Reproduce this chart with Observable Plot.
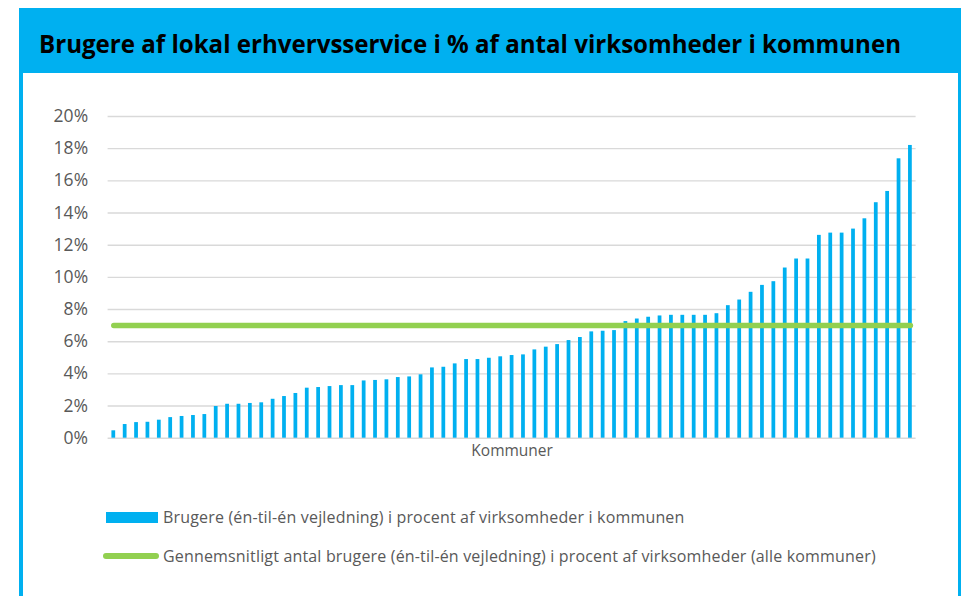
<!DOCTYPE html>
<html>
<head>
<meta charset="utf-8">
<script src="https://cdn.jsdelivr.net/npm/d3@7"></script>
<script src="https://cdn.jsdelivr.net/npm/@observablehq/plot@0.6"></script>
<style>
  body { margin: 0; background: #fff; }
  #root { position: relative; width: 961px; height: 596px; overflow: hidden; background: #fff; font-family: "Open Sans", sans-serif; }
  .abs { position: absolute; }
  .legtxt { position: absolute; left: 163px; font: 16px/20px "Open Sans", sans-serif; letter-spacing: 0.17px; color: #595959; white-space: nowrap; }
</style>
</head>
<body>
<div id="root">
  <div class="abs" style="left:19px;top:8px;width:942px;height:588px;background:#00B0F0"></div>
  <div class="abs" style="left:23px;top:73px;width:935px;height:523px;background:#fff"></div>
  <div id="title" class="abs" style="left:39px;top:30.5px;font:bold 25px/25px 'Open Sans',sans-serif;color:#000;white-space:nowrap;transform-origin:0 0">Brugere af lokal erhvervsservice i % af antal virksomheder i kommunen</div>
  <div id="chart" class="abs" style="left:0;top:80px"></div>
  <div class="abs" style="left:106px;top:512px;width:52px;height:10.5px;background:#00B0F0"></div>
  <div class="legtxt" style="top:507px">Brugere (én-til-én vejledning) i procent af virksomheder i kommunen</div>
  <div class="abs" style="left:103px;top:553.3px;width:56px;height:6px;border-radius:3px;background:#92D050"></div>
  <div class="legtxt" style="top:545.5px">Gennemsnitligt antal brugere (én-til-én vejledning) i procent af virksomheder (alle kommuner)</div>
</div>
<script>
// Andel brugere (%) pr. kommune, sorteret stigende
const andele = [
  0.46, 0.85, 0.97, 0.99, 1.12, 1.28, 1.35, 1.41, 1.47, 1.97,
  2.11, 2.11, 2.16, 2.20, 2.42, 2.59, 2.78, 3.11, 3.15, 3.21,
  3.27, 3.27, 3.56, 3.59, 3.63, 3.77, 3.81, 3.94, 4.37, 4.41,
  4.62, 4.89, 4.89, 4.97, 5.06, 5.14, 5.18, 5.49, 5.66, 5.82,
  6.07, 6.26, 6.61, 6.65, 6.69, 7.25, 7.41, 7.52, 7.60, 7.64,
  7.64, 7.64, 7.64, 7.74, 8.24, 8.59, 9.07, 9.50, 9.73, 10.58,
  11.14, 11.14, 12.61, 12.75, 12.75, 13.00, 13.64, 14.64, 15.34, 17.37,
  18.20
];
const kommuner = andele.map((_, i) => "K" + (i + 1));
const gennemsnit = 7.0;
const yTicks = [0, 2, 4, 6, 8, 10, 12, 14, 16, 18, 20];
const xLabel = "Kommuner";

const rows = kommuner.map((k, i) => ({kommune: k, andel: andele[i], gennemsnit}));

const chart = Plot.plot({
  width: 961,
  height: 400,
  marginTop: 36,
  marginBottom: 42.3,
  marginLeft: 107.6,
  marginRight: 45.4,
  style: {fontFamily: "Open Sans, sans-serif", fontSize: "17.5px", background: "none", overflow: "visible"},
  x: {type: "band", domain: kommuner, axis: null, paddingInner: 0.67, paddingOuter: 0.335, round: false},
  y: {domain: [0, 20], axis: null},
  marks: [
    Plot.gridY(yTicks, {stroke: "#D9D9D9", strokeOpacity: 1, strokeWidth: 1.4}),
    Plot.axisY(yTicks, {tickSize: 0, tickPadding: 20, tickFormat: d => d + "%", color: "#595959", label: null}),
    Plot.barY(rows, {x: "kommune", y: "andel", fill: "#00B0F0"}),
    Plot.line(rows, {x: "kommune", y: "gennemsnit", stroke: "#92D050", strokeWidth: 5.5, strokeLinecap: "round"}),
    Plot.text([xLabel], {frameAnchor: "bottom", dy: 18, fill: "#595959", fontSize: 15.5})
  ]
});
document.getElementById("chart").appendChild(chart);

function fitTitle() {
  const t = document.getElementById("title");
  t.style.transform = "none";
  const w = t.getBoundingClientRect().width;
  t.style.transform = "scaleX(" + (862 / w) + ")";
}
fitTitle();
if (document.fonts && document.fonts.ready) document.fonts.ready.then(fitTitle);
</script>
</body>
</html>
